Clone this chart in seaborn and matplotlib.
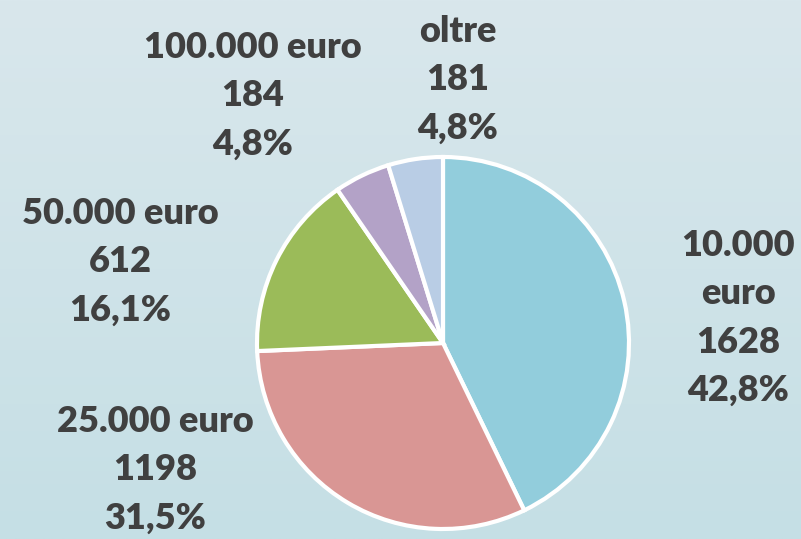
import matplotlib
matplotlib.use("Agg")
import matplotlib.pyplot as plt
import seaborn as sns
import numpy as np

# data
categories = ["10.000\neuro", "25.000 euro", "50.000 euro", "100.000 euro", "oltre"]
counts = [1628, 1198, 612, 184, 181]
percents = ["42,8%", "31,5%", "16,1%", "4,8%", "4,8%"]
colors = ["#92CDDC", "#D99694", "#9BBB59", "#B3A2C7", "#B9CDE5"]

sns.set_theme(style="white")
plt.rcParams['font.family'] = ['Lato', 'DejaVu Sans']

W, H = 801, 539
fig = plt.figure(figsize=(W / 100, H / 100), dpi=100)

# background gradient
bg = fig.add_axes([0, 0, 1, 1])
top = np.array([217, 231, 236]) / 255
bottom = np.array([197, 223, 229]) / 255
t = np.linspace(0, 1, 256)[:, None, None]
grad = top * (1 - t) + bottom * t
grad = np.repeat(grad, 2, axis=1)
bg.imshow(grad, aspect="auto", extent=[0, 1, 0, 1])
bg.axis("off")

ax = fig.add_axes([0, 0, 1, 1])
ax.patch.set_alpha(0)

ax.pie(counts, colors=colors, startangle=90, counterclock=False,
       center=(443, H - 343), radius=186,
       wedgeprops=dict(edgecolor="white", linewidth=3))
ax.set_xlim(0, W)
ax.set_ylim(0, H)
ax.set_aspect("equal")
ax.axis("off")

# label positions (pixel coords of text block centre)
label_pos = [(738, 318), (155, 470), (120, 262), (253, 96), (458, 80)]
for cat, n, p, (x, y) in zip(categories, counts, percents, label_pos):
    ax.text(x, H - y, f"{cat}\n{n}\n{p}", ha="center", va="center",
            fontsize=26, fontweight="heavy", color="#404040", linespacing=1.56)

fig.savefig("out.png", dpi=100)
